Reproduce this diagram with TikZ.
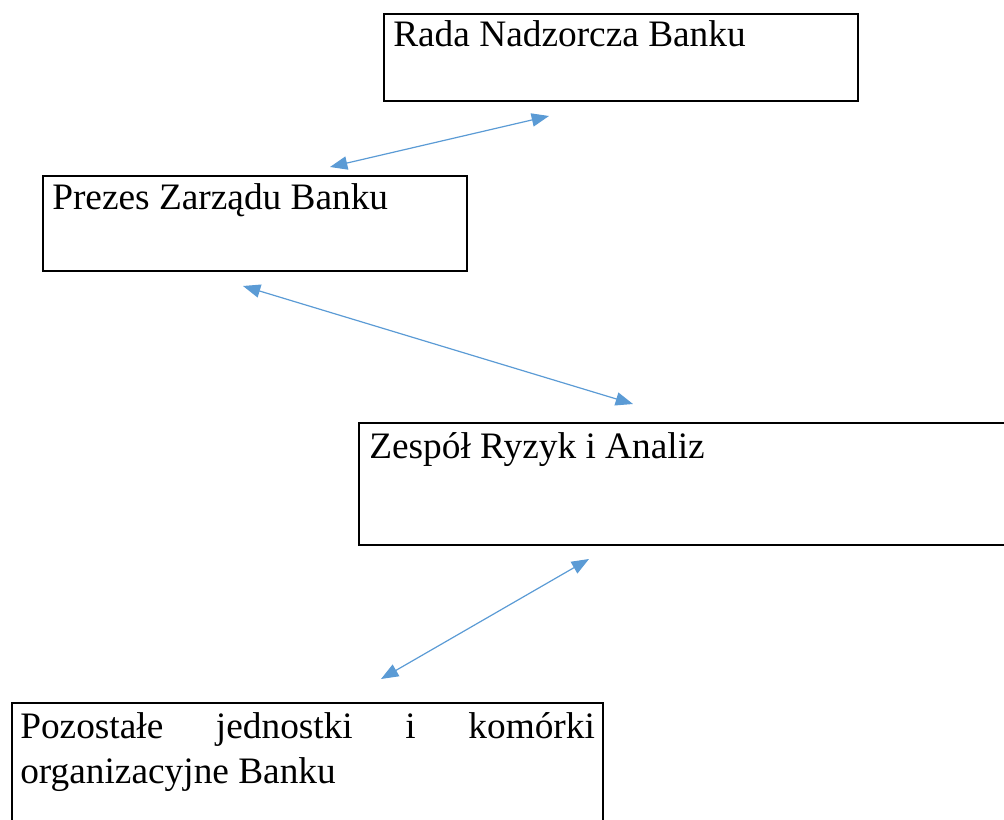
\documentclass[tikz,border=0pt]{standalone}
\usepackage{fontspec}
\setmainfont{Liberation Serif}
\usetikzlibrary{arrows.meta,positioning}

\tikzset{
  unitbox/.style={draw, line width=1.5pt, inner sep=0pt, outer sep=0pt, anchor=north west},
  boxtext/.style={inner sep=0pt, anchor=base west, font=\fontsize{28}{33.75}\selectfont},
  link/.style={{Triangle[length=13pt,width=10pt]}-{Triangle[length=13pt,width=10pt]},
               draw=linkblue, line width=0.9pt}
}
\definecolor{linkblue}{RGB}{91,155,213}

\begin{document}
\begin{tikzpicture}[x=0.75pt,y=-0.75pt]
   \useasboundingbox (0,0) rectangle (1004,820);
   \clip (0,0) rectangle (1004,820);
   % boxes
   \node[unitbox, minimum width=355.5pt, minimum height=65.25pt] (rada) at (384,14) {};
   \node[unitbox, minimum width=318pt, minimum height=71.25pt] (prezes) at (43,176) {};
   \node[unitbox, minimum width=525pt, minimum height=91.5pt] (zespol) at (359,423) {};
   \node[unitbox, minimum width=443.25pt, minimum height=112.5pt] (inne) at (12,703) {};
   % texts
   \node[boxtext] (radatxt) at ([shift={(9,33)}]rada.north west) {Rada Nadzorcza Banku};
   \node[boxtext] (prezestxt) at ([shift={(9,34)}]prezes.north west) {Prezes Zarządu Banku};
   \node[boxtext] (zespoltxt) at ([shift={(10,35)}]zespol.north west) {Zespół Ryzyk i Analiz};
   \node[boxtext, text width=431pt, align=justify] (innetxt) at ([shift={(8,35)}]inne.north west)
      {\hyphenpenalty=10000 Pozostałe jednostki i komórki\linebreak organizacyjne Banku};
   % arrow ends
   \coordinate (a1) at (549,116);
   \coordinate (b1) at (330,167);
   \coordinate (a2) at (243,286);
   \coordinate (b2) at (633,404);
   \coordinate (a3) at (589,559);
   \coordinate (b3) at (381,679);
   \draw[link] (b1) -- (a1);
   \draw[link] (a2) -- (b2);
   \draw[link] (b3) -- (a3);
\end{tikzpicture}
\end{document}
